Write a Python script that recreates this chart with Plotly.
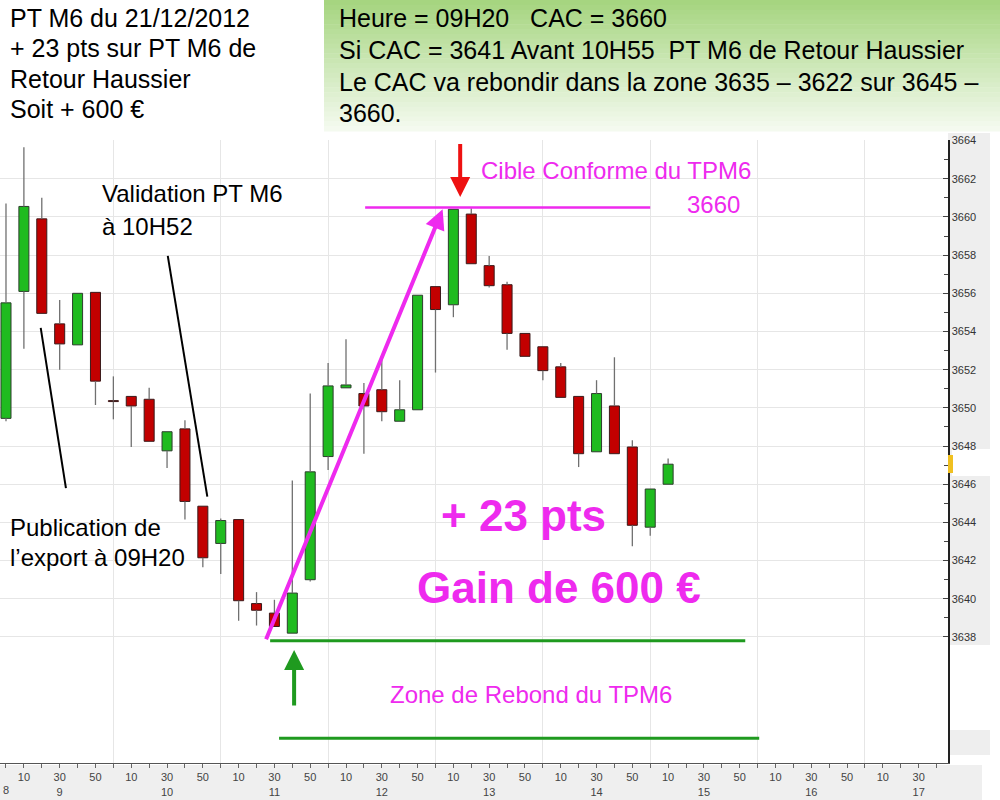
import plotly.graph_objects as go

# ---------------- data ----------------
candle_times = ["09:00", "09:10", "09:20", "09:30", "09:40", "09:50",
                "10:00", "10:10", "10:20", "10:30", "10:40", "10:50",
                "11:00", "11:10", "11:20", "11:30", "11:40", "11:50",
                "12:00", "12:10", "12:20", "12:30", "12:40", "12:50",
                "13:00", "13:10", "13:20", "13:30", "13:40", "13:50",
                "14:00", "14:10", "14:20", "14:30", "14:40", "14:50",
                "15:00", "15:10"]
open_ = [3649.45, 3656.10, 3659.90, 3654.40, 3653.30, 3656.05,
         3650.38, 3650.60, 3650.45, 3647.75, 3648.90, 3644.85,
         3642.90, 3644.15, 3639.75, 3639.25, 3638.20, 3641.00,
         3647.45, 3651.05, 3650.75, 3650.95, 3649.30, 3649.90,
         3656.35, 3655.40, 3660.15, 3657.45, 3656.45, 3653.90,
         3653.20, 3652.15, 3650.60, 3647.70, 3650.10, 3647.95,
         3643.75, 3646.00]
high = [3660.70, 3663.65, 3661.00, 3655.65, 3656.00, 3656.05,
        3651.65, 3650.60, 3651.05, 3648.75, 3649.35, 3644.85,
        3644.20, 3644.15, 3640.35, 3639.95, 3646.20, 3650.75,
        3652.35, 3653.60, 3651.30, 3652.80, 3651.45, 3655.90,
        3656.35, 3660.40, 3660.45, 3657.95, 3656.60, 3653.90,
        3653.20, 3652.35, 3650.60, 3651.45, 3652.65, 3648.30,
        3645.75, 3647.35]
low = [3649.30, 3653.10, 3654.95, 3652.00, 3653.30, 3650.15,
       3649.40, 3647.95, 3648.25, 3646.85, 3644.15, 3641.65,
       3641.30, 3638.85, 3638.60, 3638.55, 3638.20, 3640.90,
       3646.75, 3651.05, 3647.60, 3649.30, 3649.30, 3649.90,
       3651.85, 3654.75, 3657.55, 3656.30, 3653.05, 3652.70,
       3651.45, 3650.55, 3646.90, 3647.70, 3647.60, 3642.75,
       3643.30, 3646.00]
close = [3655.50, 3660.55, 3654.95, 3653.35, 3656.00, 3651.40,
         3650.33, 3650.10, 3648.25, 3648.75, 3645.10, 3642.15,
         3644.10, 3639.90, 3639.40, 3638.55, 3640.30, 3646.65,
         3651.15, 3651.20, 3650.10, 3649.80, 3649.90, 3655.90,
         3655.15, 3660.40, 3657.55, 3656.40, 3653.90, 3652.70,
         3651.95, 3650.55, 3647.60, 3650.75, 3647.60, 3643.85,
         3645.75, 3647.05]

hour_labels = ["9", "10", "11", "12", "13", "14", "15", "16", "17"]
minute_labels = ["10", "30", "50"]
price_ticks = [3638, 3640, 3642, 3644, 3646, 3648, 3650, 3652,
               3654, 3656, 3658, 3660, 3662, 3664]

target_level = 3660.5        # "Cible Conforme du TPM6 3660"
zone_top = 3637.8            # rebound zone upper line
zone_bottom = 3632.7         # rebound zone lower line
entry_time, entry_price = "11:25", 3637.8
target_time, target_price = "13:04", 3660.4

# ---------------- helpers ----------------
def minutes(hhmm):
    h, m = hhmm.split(":")
    return (int(h) - 9) * 60 + int(m)

t = [minutes(s) for s in candle_times]

PLOT_W, PLOT_H, PLOT_BOTTOM = 948, 623, 763
def px(x):
    return x / PLOT_W
def py(y):
    return (PLOT_BOTTOM - y) / PLOT_H

FONT = "Liberation Sans, Arial, sans-serif"
MAGENTA = "#ee2aee"
GREEN_LINE = "#1f9a1f"

# ---------------- traces ----------------
wx, wy = [], []
for ti, o, h, l, c in zip(t, open_, high, low, close):
    top, bot = max(o, c), min(o, c)
    if h > top:
        wx += [ti, ti, None]; wy += [h, top, None]
    if l < bot:
        wx += [ti, ti, None]; wy += [bot, l, None]

inc = [i for i in range(len(t)) if close[i] >= open_[i]]
dec = [i for i in range(len(t)) if close[i] < open_[i]]

fig = go.Figure()
fig.add_trace(go.Bar(
    x=[t[i] for i in inc], base=[open_[i] for i in inc],
    y=[close[i] - open_[i] for i in inc], width=5.6,
    marker=dict(color="#1fbb1f", line=dict(color="#2d3d2d", width=1)),
    hoverinfo="skip"))
fig.add_trace(go.Bar(
    x=[t[i] for i in dec], base=[close[i] for i in dec],
    y=[open_[i] - close[i] for i in dec], width=5.6,
    marker=dict(color="#c20000", line=dict(color="#3a1a1a", width=1)),
    hoverinfo="skip"))
fig.add_trace(go.Scatter(x=wx, y=wy, mode="lines",
                         line=dict(color="#707070", width=1.3),
                         hoverinfo="skip"))

# ---------------- axes ----------------
tick_pos = list(range(0, 530, 10))
label_map = {}
for k, hl in enumerate(hour_labels):
    for m in minute_labels:
        label_map[60 * k + int(m)] = m + ("<br>" + hl if m == "30" else "")
tick_txt = [label_map.get(v, "") for v in tick_pos]

fig.update_xaxes(
    range=[-3.35, 526.4], tickmode="array", tickvals=tick_pos, ticktext=tick_txt,
    ticks="outside", ticklen=4, tickcolor="#666", showgrid=False,
    showline=True, linecolor="#555", linewidth=1, zeroline=False,
    tickfont=dict(family=FONT, size=11, color="#444"),
    minor=dict(tickmode="array", tickvals=list(range(60, 520, 60)),
               showgrid=True, gridcolor="#e6e6e6", gridwidth=1, ticks=""),
)
fig.update_yaxes(
    range=[3631.4, 3664.03], side="right", tickmode="array",
    tickvals=price_ticks, ticktext=[str(v) for v in price_ticks],
    ticks="inside", ticklen=5, tickcolor="#444",
    showgrid=True, gridcolor="#e6e6e6", gridwidth=1, zeroline=False,
    showline=True, linecolor="#222", linewidth=1.5,
    tickfont=dict(family=FONT, size=11, color="#333"),
    minor=dict(tickmode="array", tickvals=[v + 1 for v in price_ticks[:-1]],
               ticks="inside", ticklen=4, tickcolor="#444", showgrid=False),
)

# ---------------- background shapes ----------------
shapes = []
shapes.append(dict(type="rect", xref="paper", yref="paper", layer="below",
                   x0=1.0, x1=px(990), y0=py(645), y1=py(133),
                   fillcolor="#eeeeee", line=dict(width=0)))
shapes.append(dict(type="rect", xref="paper", yref="paper", layer="below",
                   x0=1.0, x1=px(990), y0=py(755), y1=py(730),
                   fillcolor="#eeeeee", line=dict(width=0)))
shapes.append(dict(type="rect", xref="paper", yref="paper", layer="below",
                   x0=px(952), x1=px(990), y0=py(476), y1=py(449),
                   fillcolor="white", line=dict(width=0)))
shapes.append(dict(type="rect", xref="paper", yref="paper", layer="above",
                   x0=px(948), x1=px(953), y0=py(473), y1=py(455),
                   fillcolor="#f0c020", line=dict(width=0)))
shapes.append(dict(type="rect", xref="paper", yref="paper", layer="below",
                   x0=0, x1=px(982), y0=py(800), y1=py(765),
                   fillcolor="#efefef", line=dict(width=0)))
n = 27
c0, c1 = (166, 213, 128), (244, 250, 239)
for i in range(n):
    f = i / (n - 1)
    col = "rgb(%d,%d,%d)" % tuple(round(a + (b - a) * f) for a, b in zip(c0, c1))
    y0p = 131 * i / n
    y1p = 131 * (i + 1) / n
    shapes.append(dict(type="rect", xref="paper", yref="paper", layer="below",
                       x0=px(324), x1=px(1000), y0=py(y1p + 0.5), y1=py(y0p),
                       fillcolor=col, line=dict(width=0)))

shapes.append(dict(type="line", xref="x", yref="y", x0=200.7, x1=360,
                   y0=target_level, y1=target_level,
                   line=dict(color=MAGENTA, width=2.5)))
shapes.append(dict(type="line", xref="x", yref="y", x0=147.6, x1=413.1,
                   y0=zone_top, y1=zone_top, line=dict(color=GREEN_LINE, width=3)))
shapes.append(dict(type="line", xref="x", yref="y", x0=152.6, x1=420.9,
                   y0=zone_bottom, y1=zone_bottom, line=dict(color=GREEN_LINE, width=3)))
shapes.append(dict(type="line", xref="x", yref="y", x0=19.4, y0=3654.19,
                   x1=33.5, y1=3645.8, line=dict(color="black", width=2)))
shapes.append(dict(type="line", xref="x", yref="y", x0=90.4, y0=3657.96,
                   x1=112.5, y1=3645.35, line=dict(color="black", width=2)))

# ---------------- annotations ----------------
ann = []
def text(s, x, y, size=24, color="black", anchor="left", bold=False):
    ann.append(dict(text=("<b>%s</b>" % s) if bold else s, xref="paper", yref="paper",
                    x=px(x), y=py(y), xanchor=anchor, yanchor="middle",
                    showarrow=False,
                    font=dict(family=FONT, size=size, color=color)))

NB = "\u00a0"
text("PT M6 du 21/12/2012", 8, 18, 25)
text("+ 23 pts sur PT M6 de", 8, 48, 25)
text("Retour Haussier", 8, 79, 25)
text("Soit + 600 €", 8, 109, 25)
text("Heure = 09H20" + NB * 3 + "CAC = 3660", 337, 18, 25)
text("Si CAC = 3641 Avant 10H55" + NB * 2 + "PT M6 de Retour Haussier", 337, 50, 25)
text("Le CAC va rebondir dans la zone 3635 – 3622 sur 3645 –", 337, 82, 25)
text("3660.", 337, 113, 25)

text("Validation PT M6", 100, 193, 24)
text("à 10H52", 100, 226, 24)
text("Publication de", 8, 527, 24)
text("l’export à 09H20", 8, 557, 24)
text("Cible Conforme du TPM6", 479, 170, 24, MAGENTA)
text("3660", 685, 204, 24, MAGENTA)
text("+ 23 pts", 523, 515, 44, MAGENTA, "center", True)
text("Gain de 600 €", 559, 587, 44, MAGENTA, "center", True)
text("Zone de Rebond du TPM6", 531, 694, 24, MAGENTA, "center")
text("8", 1, 790, 11, "#444", "left")

ann.append(dict(x=minutes(target_time), y=target_price, ax=minutes(entry_time), ay=entry_price,
                xref="x", yref="y", axref="x", ayref="y", text="", showarrow=True,
                arrowhead=2, arrowsize=1, arrowwidth=4, arrowcolor=MAGENTA, standoff=0))
ann.append(dict(x=253.8, y=3661.05, ax=253.8, ay=3663.9,
                xref="x", yref="y", axref="x", ayref="y", text="", showarrow=True,
                arrowhead=2, arrowsize=1, arrowwidth=4, arrowcolor="#ee1111", standoff=0))
ann.append(dict(x=161, y=3637.32, ax=161, ay=3634.33,
                xref="x", yref="y", axref="x", ayref="y", text="", showarrow=True,
                arrowhead=2, arrowsize=1, arrowwidth=4, arrowcolor=GREEN_LINE, standoff=0))

fig.update_layout(
    width=1000, height=800,
    margin=dict(l=0, r=52, t=140, b=37, pad=0),
    paper_bgcolor="white", plot_bgcolor="white",
    showlegend=False, barmode="overlay", bargap=0, hovermode=False,
    font=dict(family=FONT),
    shapes=shapes, annotations=ann,
)

fig.write_html(
    "out.html",
    config={"displayModeBar": False, "staticPlot": True},
    post_script="document.body.style.margin='0';document.body.style.padding='0';"
                "document.body.style.overflow='hidden';",
)
